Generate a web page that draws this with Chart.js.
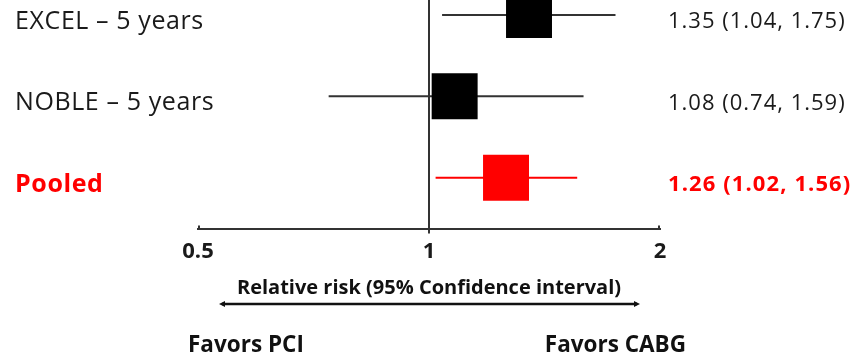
<!DOCTYPE html>
<html>
<head>
<meta charset="utf-8">
<script src="https://cdn.jsdelivr.net/npm/chart.js@4.4.1/dist/chart.umd.min.js"></script>
<style>
  html, body { margin: 0; padding: 0; background: #fff; }
  #wrap { width: 854px; height: 355px; position: relative; }
</style>
</head>
<body>
<div id="wrap"><canvas id="forest"></canvas></div>
<script>
// Forest plot data
const studies = ['EXCEL – 5 years', 'NOBLE – 5 years', 'Pooled'];
const riskRatio = [1.35, 1.08, 1.26];
const ciLow = [1.04, 0.74, 1.02];
const ciHigh = [1.75, 1.59, 1.56];
const tickValues = [0.5, 1, 2];
const axisTitle = 'Relative risk (95% Confidence interval)';
const favorsLeft = 'Favors PCI';
const favorsRight = 'Favors CABG';

const FONT = '"Open Sans", Lato, sans-serif';
const RED = '#ff0000';

function rowColor(i) {
  return studies[i] === 'Pooled' ? RED : '#000';
}

// CI whiskers, one line dataset per row
const ciSets = studies.map((s, i) => ({
  type: 'line',
  data: [{ x: ciLow[i], y: i }, { x: ciHigh[i], y: i }],
  borderColor: studies[i] === 'Pooled' ? RED : '#333',
  borderWidth: 2,
  pointRadius: 0,
  order: 2
}));

// Square markers for the point estimates
const boxSet = {
  type: 'scatter',
  data: riskRatio.map((v, i) => ({ x: v, y: i })),
  pointStyle: 'rect',
  pointRadius: 32.5,
  pointHoverRadius: 32.5,
  backgroundColor: studies.map((s, i) => rowColor(i)),
  borderWidth: 0,
  order: 1
};

// Labels, value text, arrow and "favors" captions
const sidePlugin = {
  id: 'sideText',
  afterDraw(chart) {
    const { ctx, scales } = chart;
    const x = scales.x, y = scales.y;
    ctx.save();
    ctx.textBaseline = 'middle';
    ctx.textAlign = 'left';
    studies.forEach((s, i) => {
      const py = y.getPixelForValue(i) + 7;
      const pooled = s === 'Pooled';
      ctx.fillStyle = pooled ? RED : '#1a1a1a';
      ctx.font = (pooled ? 'bold ' : '') + '25px ' + FONT;
      ctx.letterSpacing = '0.6px';
      ctx.fillText(s, 15, py);
      const txt = riskRatio[i].toFixed(2) + ' (' + ciLow[i].toFixed(2) + ', ' + ciHigh[i].toFixed(2) + ')';
      ctx.font = (pooled ? 'bold ' : '') + '22px ' + FONT;
      ctx.letterSpacing = pooled ? '1.1px' : '1px';
      ctx.fillText(txt, 668, py);
    });
    ctx.letterSpacing = '0px';

    // small upturned ends on the axis line
    ctx.strokeStyle = '#333';
    ctx.lineWidth = 2;
    const ab = chart.chartArea.bottom;
    [x.left + 1, x.right - 1].forEach(px => {
      ctx.beginPath();
      ctx.moveTo(px, ab);
      ctx.lineTo(px, ab - 3);
      ctx.stroke();
    });

    // double headed arrow
    const ay = 304;
    const ax0 = 222, ax1 = 637;
    ctx.strokeStyle = '#111';
    ctx.fillStyle = '#111';
    ctx.lineWidth = 2.5;
    ctx.beginPath();
    ctx.moveTo(ax0, ay);
    ctx.lineTo(ax1, ay);
    ctx.stroke();
    [[ax0, -1], [ax1, 1]].forEach(([px, d]) => {
      ctx.beginPath();
      ctx.moveTo(px + d * 3, ay);
      ctx.lineTo(px - d * 3, ay - 3);
      ctx.lineTo(px - d * 3, ay + 3);
      ctx.closePath();
      ctx.fill();
    });

    ctx.font = 'bold 22.5px ' + FONT;
    ctx.fillStyle = '#111';
    ctx.textBaseline = 'alphabetic';
    ctx.textAlign = 'left';
    ctx.fillText(favorsLeft, 188, 352);
    ctx.textAlign = 'right';
    ctx.fillText(favorsRight, 686, 352);
    ctx.restore();
  }
};

new Chart(document.getElementById('forest'), {
  data: { datasets: [boxSet, ...ciSets] },
  options: {
    responsive: true,
    maintainAspectRatio: false,
    animation: false,
    events: [],
    layout: { autoPadding: false, padding: { left: 198, right: 194, top: 0, bottom: 55 } },
    plugins: { legend: { display: false }, tooltip: { enabled: false } },
    scales: {
      x: {
        type: 'logarithmic',
        min: 0.5,
        max: 2,
        afterBuildTicks: axis => { axis.ticks = tickValues.map(v => ({ value: v })); },
        ticks: {
          color: '#1a1a1a',
          font: { family: FONT, size: 22, weight: 'bold' },
          padding: 5,
          autoSkip: false,
          maxRotation: 0,
          callback: v => String(v)
        },
        grid: {
          color: c => (c.tick && c.tick.value === 1 ? '#333' : 'rgba(0,0,0,0)'),
          lineWidth: 2,
          tickLength: 5
        },
        border: { display: true, color: '#333', width: 2 },
        title: {
          display: true,
          text: axisTitle,
          color: '#111',
          font: { family: FONT, size: 20, weight: 'bold' },
          padding: { top: 6, bottom: 0 }
        }
      },
      y: {
        type: 'linear',
        display: false,
        reverse: true,
        min: -0.184,
        max: 2.626
      }
    }
  },
  plugins: [sidePlugin]
});
</script>
</body>
</html>
